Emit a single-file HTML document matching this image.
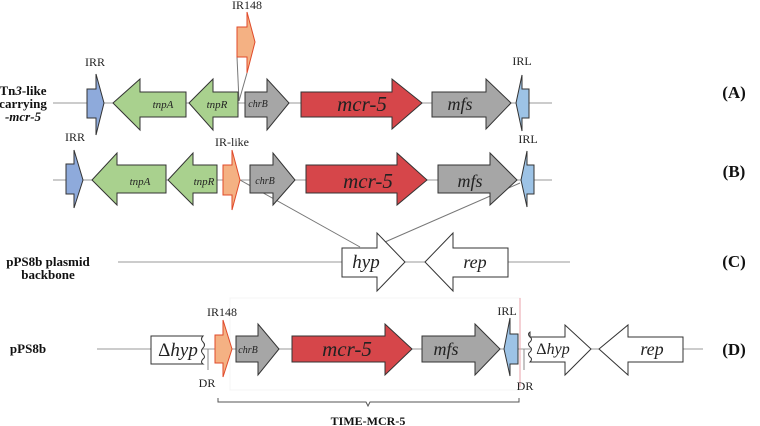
<!DOCTYPE html>
<html><head><meta charset="utf-8"><style>
html,body{margin:0;padding:0;background:#fff;}
svg{display:block;font-family:"Liberation Serif",serif;}
</style></head><body>
<svg width="760" height="426" viewBox="0 0 760 426" xmlns="http://www.w3.org/2000/svg">
<g stroke="#999" stroke-width="1" fill="none">
<line x1="53" y1="103" x2="552" y2="103"/>
<line x1="53" y1="180" x2="552" y2="180"/>
<line x1="118" y1="262" x2="570" y2="262"/>
<line x1="97" y1="349" x2="703" y2="349"/>
<line x1="240" y1="180" x2="360" y2="247" stroke="#777"/>
<line x1="520" y1="183" x2="385" y2="242" stroke="#777"/>
<line x1="237" y1="57" x2="239" y2="101" stroke="#777"/>
<line x1="247" y1="73" x2="239" y2="101" stroke="#777"/>
<rect x="230" y="298" width="290" height="92" stroke="#f4f4f4"/>
</g>
<g stroke="#333" stroke-width="1">
<polygon fill="#8eaadb" points="87,89 96,89 96,74 104,103 96,135 96,118 87,118"/>
<polygon fill="#a9d18e" points="113,103 140,79 140,92 186,92 186,117 140,117 140,130"/>
<polygon fill="#a9d18e" points="189,103 213,79 213,92 238,92 238,117 213,117 213,130"/>
<polygon fill="#a6a6a6" points="245,92 267,92 267,79 289,103 267,130 267,117 245,117"/>
<polygon fill="#d6464a" points="301,92 392,92 392,79 422,103 392,129 392,117 301,117"/>
<polygon fill="#a6a6a6" points="432,92 486,92 486,79 511,103 486,129 486,117 432,117"/>
<polygon fill="#9dc3e6" points="516,103 522,75 522,89 529,89 529,118 522,118 522,131"/>
<polygon fill="#f4b183" stroke="#e04a2a" points="237,27 247,27 247,12 255,42 247,73 247,57 237,57"/>
<polygon fill="#8eaadb" points="66,164 74,164 74,150 83,180 74,208 74,194 66,194"/>
<polygon fill="#a9d18e" points="92,180 117,153 117,165 166,165 166,193 117,193 117,205"/>
<polygon fill="#a9d18e" points="168,180 193,153 193,165 217,165 217,193 193,193 193,205"/>
<polygon fill="#f4b183" stroke="#e04a2a" points="223,165 232,165 232,150 240,180 232,210 232,195 223,195"/>
<polygon fill="#a6a6a6" points="250,165 273,165 273,153 295,180 273,205 273,193 250,193"/>
<polygon fill="#d6464a" points="306,165 397,165 397,153 427,180 397,205 397,193 306,193"/>
<polygon fill="#a6a6a6" points="438,165 490,165 490,153 517,180 490,205 490,193 438,193"/>
<polygon fill="#9dc3e6" points="521,180 527,151 527,165 534,165 534,194 527,194 527,207"/>
<polygon fill="#fff" points="342,248 377,248 377,233 405,262 377,291 377,277 342,277"/>
<polygon fill="#fff" points="425,262 453,233 453,248 508,248 508,277 453,277 453,291"/>
<path fill="#fff" d="M151,336 H203 q-3,3 0,6 q3,3 0,6 q-3,3 0,6 q3,3 0,5 q-3,3 0,5 H151 Z"/>
<polygon fill="#f4b183" stroke="#e04a2a" points="215,335 223,335 223,320 232,349 223,377 223,363 215,363"/>
<polygon fill="#a6a6a6" points="236,336 258,336 258,324 279,349 258,375 258,362 236,362"/>
<polygon fill="#d6464a" points="292,336 385,336 385,324 412,349 385,375 385,362 292,362"/>
<polygon fill="#a6a6a6" points="422,336 475,336 475,324 500,349 475,375 475,362 422,362"/>
<polygon fill="#9dc3e6" points="504,349 510,318 510,334 518,334 518,364 510,364 510,376"/>
<path fill="#fff" d="M530,337 H565 V325 L591,349 L565,375 V362 H530 q3,-3 0,-5 q-3,-3 0,-5 q3,-3 0,-5 q-3,-3 0,-5 q3,-3 0,-5 q-3,-3 0,-5 Z"/>
<polygon fill="#fff" points="599,349 628,325 628,337 683,337 683,362 628,362 628,375"/>
</g>
<g stroke="#888" fill="none">
<line x1="208" y1="349" x2="208" y2="370"/>
<line x1="524" y1="349" x2="524" y2="370"/>
<path d="M218,398 v4 h148 l2,4 l2,-4 h149 v-4" stroke="#555"/>
</g>
<line x1="520" y1="298" x2="520" y2="387" stroke="#e8a0a8"/>
<g font-size="12" fill="#222" text-anchor="middle">
<text x="247" y="9">IR148</text>
<text x="95" y="66">IRR</text>
<text x="522" y="65">IRL</text>
<text x="75" y="141">IRR</text>
<text x="232" y="146">IR-like</text>
<text x="528" y="143">IRL</text>
<text x="222" y="316">IR148</text>
<text x="207" y="387">DR</text>
<text x="507" y="315">IRL</text>
<text x="525" y="390">DR</text>
</g>
<g font-style="italic" fill="#222" text-anchor="middle">
<text x="163" y="108" font-size="11">tnpA</text>
<text x="217" y="108" font-size="11">tnpR</text>
<text x="258" y="107" font-size="10">chrB</text>
<text x="362" y="111" font-size="21">mcr-5</text>
<text x="460" y="110" font-size="18">mfs</text>
<text x="140" y="185" font-size="11">tnpA</text>
<text x="204" y="185" font-size="11">tnpR</text>
<text x="265" y="184" font-size="10">chrB</text>
<text x="368" y="188" font-size="21">mcr-5</text>
<text x="470" y="187" font-size="18">mfs</text>
<text x="366" y="268" font-size="19">hyp</text>
<text x="475" y="268" font-size="18">rep</text>
<text x="248" y="353" font-size="10">chrB</text>
<text x="347" y="356" font-size="21">mcr-5</text>
<text x="446" y="355" font-size="18">mfs</text>
<text x="652" y="355" font-size="18">rep</text>
</g>
<text x="178" y="356" font-size="19" text-anchor="middle" fill="#222">Δ<tspan font-style="italic">hyp</tspan></text>
<text x="553" y="354" font-size="16" text-anchor="middle" fill="#222">Δ<tspan font-style="italic">hyp</tspan></text>
<g font-weight="bold" fill="#111" text-anchor="middle">
<text x="23" y="95" font-size="13">Tn<tspan font-style="italic">3</tspan>-like</text>
<text x="23" y="108" font-size="13">carrying</text>
<text x="23" y="121" font-size="13" font-style="italic">-mcr-5</text>
<text x="48" y="266" font-size="13">pPS8b plasmid</text>
<text x="48" y="279" font-size="13">backbone</text>
<text x="28" y="353" font-size="13">pPS8b</text>
<text x="368" y="425" font-size="12">TIME-MCR-5</text>
<text x="734" y="98" font-size="17">(A)</text>
<text x="734" y="177" font-size="17">(B)</text>
<text x="734" y="267" font-size="17">(C)</text>
<text x="734" y="355" font-size="17">(D)</text>
</g>
</svg>
</body></html>
